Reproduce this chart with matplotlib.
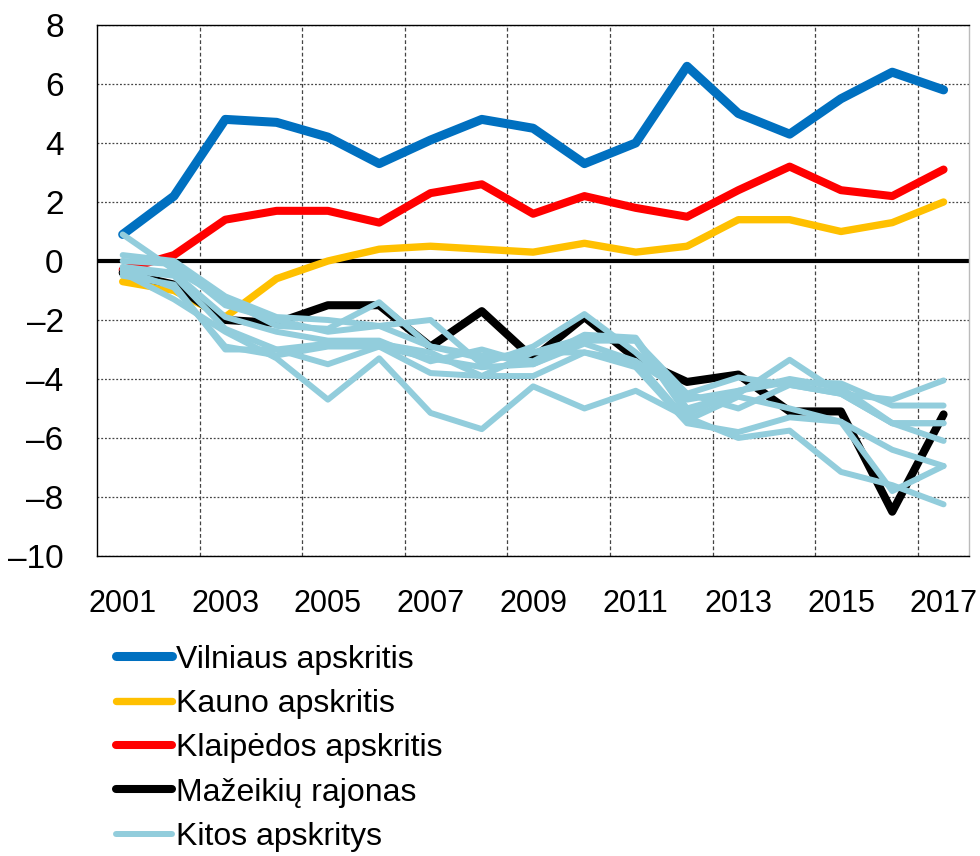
import numpy as np
import matplotlib
matplotlib.use("Agg")
import matplotlib.pyplot as plt
from matplotlib.ticker import FixedLocator

plt.rcParams["font.family"] = ["Liberation Sans", "DejaVu Sans"]

years = list(range(2001, 2018))

vilnius = [0.9, 2.2, 4.8, 4.7, 4.2, 3.3, 4.1, 4.8, 4.5, 3.3, 4.0, 6.6, 5.0, 4.3, 5.5, 6.4, 5.8]
kaunas = [-0.7, -1.0, -1.9, -0.6, 0.0, 0.4, 0.5, 0.4, 0.3, 0.6, 0.3, 0.5, 1.4, 1.4, 1.0, 1.3, 2.0]
klaipeda = [-0.3, 0.2, 1.4, 1.7, 1.7, 1.3, 2.3, 2.6, 1.6, 2.2, 1.8, 1.5, 2.4, 3.2, 2.4, 2.2, 3.1]
mazeikiai = [-0.4, -0.8, -2.0, -2.1, -1.5, -1.5, -2.9, -1.7, -3.3, -1.9, -3.3, -4.1, -3.85, -5.1, -5.1, -8.5, -5.2]

# kitos apskritys (light blue lines)
kitos_1 = [0.9, -0.3, -1.3, -2.2, -2.3, -1.4, -2.9, -3.3, -3.1, -2.6, -2.7, -4.5, -3.95, -4.2, -4.5, -4.7, -4.05]
kitos_2 = [0.2, 0.0, -1.2, -1.9, -2.0, -2.2, -2.0, -3.5, -2.9, -1.8, -3.1, -4.7, -4.4, -4.1, -4.15, -4.9, -4.9]
kitos_3 = [0.0, -0.1, -1.5, -2.0, -2.4, -2.2, -2.9, -3.2, -3.4, -2.5, -2.6, -5.0, -4.5, -3.35, -4.5, -5.5, -5.5]
kitos_4 = [-0.2, -0.4, -1.9, -2.4, -2.7, -2.7, -3.4, -3.0, -3.5, -2.8, -3.4, -4.5, -5.0, -4.2, -4.5, -5.5, -6.1]
kitos_5 = [-0.3, -0.5, -2.3, -3.0, -2.8, -2.8, -3.1, -3.9, -3.1, -3.1, -3.6, -5.5, -5.8, -5.3, -5.45, -6.4, -6.95]
kitos_6 = [-0.5, -0.8, -3.0, -3.0, -3.5, -2.9, -3.8, -3.9, -3.9, -3.1, -3.4, -5.4, -4.6, -5.0, -5.45, -7.8, -6.95]
kitos_7 = [-0.4, -1.3, -2.4, -3.3, -4.7, -3.3, -5.15, -5.7, -4.25, -5.0, -4.4, -5.3, -6.0, -5.75, -7.15, -7.6, -8.25]
kitos_8 = [-0.3, -0.9, -2.9, -3.2, -2.9, -2.9, -3.3, -3.6, -3.5, -2.7, -2.7, -5.2, -4.4, -4.0, -4.3, -5.5, -5.5]
kitos = [kitos_1, kitos_2, kitos_3, kitos_4, kitos_5, kitos_6, kitos_7, kitos_8]

y_ticks = [8, 6, 4, 2, 0, -2, -4, -6, -8, -10]
y_labels = ["8", "6", "4", "2", "0", "–2", "–4", "–6", "–8", "–10"]
x_ticks = [2001, 2003, 2005, 2007, 2009, 2011, 2013, 2015, 2017]

labels = ["Vilniaus apskritis", "Kauno apskritis", "Klaipėdos apskritis",
          "Mažeikių rajonas", "Kitos apskritys"]

fig = plt.figure(figsize=(9.8, 8.56), dpi=100)
ax = fig.add_axes([0.099, 0.3505, 0.89, 0.6203])

ax.axhline(0, color="black", linewidth=3, zorder=2)

lv, = ax.plot(years, vilnius, color="#0070C0", linewidth=6.5, solid_capstyle="round", zorder=3)
lk, = ax.plot(years, kaunas, color="#FFC000", linewidth=5.3, solid_capstyle="round", zorder=3)
lr, = ax.plot(years, klaipeda, color="#FF0000", linewidth=5.8, solid_capstyle="round", zorder=3)
lm, = ax.plot(years, mazeikiai, color="black", linewidth=5.8, solid_capstyle="round", zorder=3)
for s in kitos:
    lb, = ax.plot(years, s, color="#92CDDC", linewidth=4.3, solid_capstyle="round", zorder=4)

ax.set_xlim(2000.5, 2017.5)
ax.set_ylim(-10, 8)
ax.set_yticks(y_ticks)
ax.set_yticklabels(y_labels)
ax.set_xticks(x_ticks)
ax.xaxis.set_minor_locator(FixedLocator(np.arange(2002.5, 2017, 2)))
ax.tick_params(axis="both", which="both", length=0)
ax.tick_params(axis="x", labelsize=22, pad=24)
ax.tick_params(axis="y", labelsize=24, pad=24)

ax.grid(axis="y", which="major", linestyle=(0, (1.5, 1.5)), color="#444444", linewidth=0.9)
ax.grid(axis="x", which="minor", linestyle=(0, (3, 2)), color="#444444", linewidth=0.9)
ax.grid(axis="x", which="major", visible=False)
ax.set_axisbelow(True)

for sp in ax.spines.values():
    sp.set_linewidth(1)
    sp.set_color("black")
ax.spines["right"].set_color("#BBBBBB")

fig.legend([lv, lk, lr, lm, lb], labels, loc="upper left",
           bbox_to_anchor=(0.105, 0.262), frameon=False, fontsize=23,
           handlelength=1.75, handletextpad=0.15, labelspacing=0.45,
           borderaxespad=0)

plt.savefig("out.png", dpi=100)
